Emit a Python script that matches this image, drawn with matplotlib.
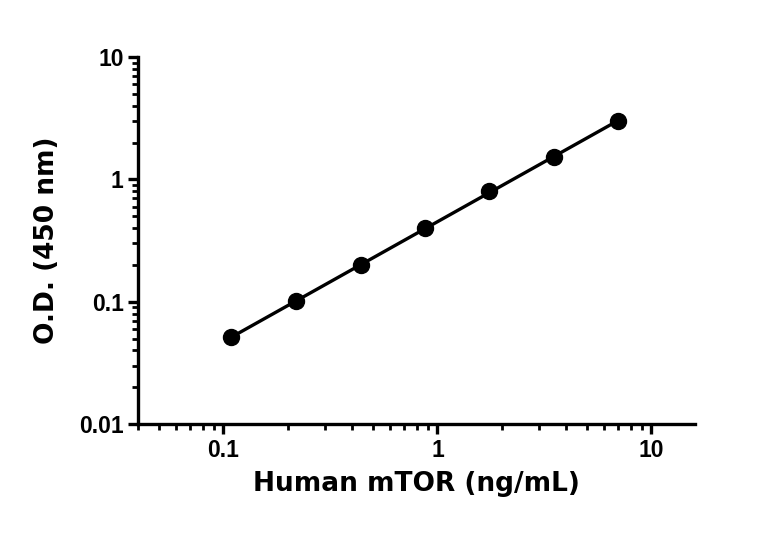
import matplotlib.pyplot as plt
import numpy as np

# mTOR standard curve
conc = [0.109, 0.219, 0.4375, 0.875, 1.75, 3.5, 7.0]
od = [0.051, 0.101, 0.20, 0.40, 0.80, 1.52, 3.0]

tick_font = ["Liberation Sans Narrow", "Liberation Sans", "DejaVu Sans"]
label_font = ["DejaVu Sans"]

fig = plt.figure(figsize=(7.68, 5.34), dpi=100)
ax = fig.add_axes([0.180, 0.206, 0.725, 0.687])

# straight fit in log-log space
slope, icpt = np.polyfit(np.log10(conc), np.log10(od), 1)
xfit = np.array([min(conc), max(conc)])
ax.plot(xfit, 10 ** (icpt + slope * np.log10(xfit)), color="black", lw=2.4, zorder=2)
ax.plot(conc, od, "o", color="black", ms=11.5, zorder=3)

ax.set_xscale("log")
ax.set_yscale("log")
ax.set_xlim(0.04, 16)
ax.set_ylim(0.01, 10)
ax.set_xticks([0.1, 1, 10])
ax.set_xticklabels(["0.1", "1", "10"])
ax.set_yticks([0.01, 0.1, 1, 10])
ax.set_yticklabels(["0.01", "0.1", "1", "10"])

for side in ["top", "right"]:
    ax.spines[side].set_visible(False)
for side in ["left", "bottom"]:
    ax.spines[side].set_linewidth(2.4)

ax.tick_params(which="major", length=7.5, width=2.4, pad=3)
ax.tick_params(which="minor", length=4.5, width=2.0)
for lbl in ax.get_xticklabels() + ax.get_yticklabels():
    lbl.set_fontweight("bold")
    lbl.set_fontfamily(tick_font)
    lbl.set_fontsize(16.5)

ax.set_xlabel("Human mTOR (ng/mL)", fontsize=19, fontweight="bold",
              family=label_font, labelpad=7)
ax.set_ylabel("O.D. (450 nm)", fontsize=19, fontweight="bold",
              family=label_font, labelpad=14)

fig.savefig("out.png", dpi=100)
